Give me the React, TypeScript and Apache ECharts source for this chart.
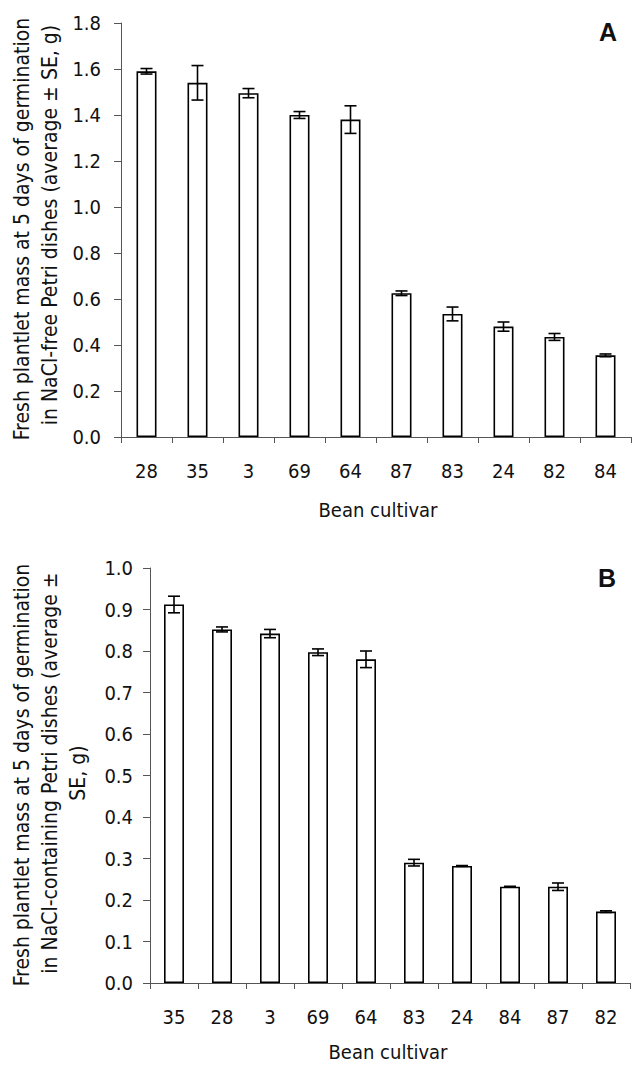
import React, { useEffect, useRef } from "react";
import * as echarts from "echarts";

const cultivarsA = ["28", "35", "3", "69", "64", "87", "83", "24", "82", "84"];
const meanA = [1.59, 1.54, 1.495, 1.4, 1.38, 0.625, 0.535, 0.48, 0.435, 0.355];
const seA = [0.012, 0.075, 0.02, 0.015, 0.06, 0.01, 0.03, 0.02, 0.015, 0.006];

const cultivarsB = ["35", "28", "3", "69", "64", "83", "24", "84", "87", "82"];
const meanB = [0.912, 0.852, 0.842, 0.797, 0.78, 0.29, 0.282, 0.232, 0.232, 0.172];
const seB = [0.02, 0.006, 0.01, 0.008, 0.02, 0.008, 0.001, 0.001, 0.009, 0.002];

const yTicksA = { min: 0, max: 1.8, interval: 0.2 };
const yTicksB = { min: 0, max: 1.0, interval: 0.1 };

const FONT = "DejaVu Sans Condensed";
const FS = 20;
const TXT = "#111";
const AX = "#555";

function errSeries(means: number[], ses: number[], idx: number) {
  return {
    type: "custom",
    xAxisIndex: idx,
    yAxisIndex: idx,
    z: 5,
    data: means.map((m, i) => [i, m - ses[i], m + ses[i]]),
    encode: { x: 0, y: [1, 2] },
    renderItem: (params: any, api: any) => {
      const x = api.value(0);
      const lo = api.coord([x, api.value(1)]);
      const hi = api.coord([x, api.value(2)]);
      const hw = 6;
      const st = { stroke: "#000", lineWidth: 1.6 };
      return {
        type: "group",
        children: [
          { type: "line", shape: { x1: lo[0], y1: lo[1], x2: hi[0], y2: hi[1] }, style: st },
          { type: "line", shape: { x1: lo[0] - hw, y1: lo[1], x2: lo[0] + hw, y2: lo[1] }, style: st },
          { type: "line", shape: { x1: hi[0] - hw, y1: hi[1], x2: hi[0] + hw, y2: hi[1] }, style: st },
        ],
      };
    },
  };
}

function xAx(cats: string[], idx: number) {
  return {
    type: "category",
    gridIndex: idx,
    data: cats,
    boundaryGap: true,
    axisLine: { lineStyle: { color: AX, width: 1 } },
    axisTick: { show: true, alignWithLabel: false, length: 6, lineStyle: { color: AX } },
    axisLabel: { color: TXT, fontFamily: FONT, fontSize: FS, margin: 24 },
  };
}

function yAx(t: { min: number; max: number; interval: number }, idx: number, margin: number) {
  return {
    type: "value",
    gridIndex: idx,
    min: t.min,
    max: t.max,
    interval: t.interval,
    splitLine: { show: false },
    axisLine: { show: true, lineStyle: { color: AX, width: 1 } },
    axisTick: { show: true, length: 7, lineStyle: { color: AX } },
    axisLabel: {
      color: TXT,
      fontFamily: FONT,
      fontSize: FS,
      margin,
      formatter: (v: number) => v.toFixed(1),
    },
  };
}

function barSeries(means: number[], idx: number) {
  return {
    type: "bar",
    xAxisIndex: idx,
    yAxisIndex: idx,
    data: means,
    barWidth: 20,
    itemStyle: { color: "#fff", borderColor: "#000", borderWidth: 1.6 },
  };
}

function vText(text: string, x: number, y: number) {
  return {
    type: "text",
    x,
    y,
    rotation: Math.PI / 2,
    style: {
      text,
      fill: TXT,
      font: `${FS + 1}px '${FONT}'`,
      align: "center",
      verticalAlign: "middle",
    },
  };
}

function hText(text: string, x: number, y: number, font: string) {
  return {
    type: "text",
    x,
    y,
    style: { text, fill: TXT, font, align: "center", verticalAlign: "middle" },
  };
}

export default function App() {
  const ref = useRef<HTMLDivElement>(null);
  useEffect(() => {
    const chart = echarts.init(ref.current!, null, { renderer: "svg" });
    chart.setOption({
      animation: false,
      backgroundColor: "#fff",
      grid: [
        { left: 121, top: 23, width: 510, height: 414 },
        { left: 150, top: 568, width: 480, height: 415 },
      ],
      xAxis: [xAx(cultivarsA, 0), xAx(cultivarsB, 1)],
      yAxis: [yAx(yTicksA, 0, 20), yAx(yTicksB, 1, 17)],
      series: [
        barSeries(meanA, 0),
        errSeries(meanA, seA, 0),
        barSeries(meanB, 1),
        errSeries(meanB, seB, 1),
      ],
      graphic: [
        vText("Fresh plantlet mass at 5 days of germination", 22, 229),
        vText("in NaCl-free Petri dishes (average ± SE, g)", 50, 225),
        vText("Fresh plantlet mass at 5 days of germination", 22, 775),
        vText("in NaCl-containing Petri dishes (average ±", 50, 773),
        vText("SE, g)", 78, 773),
        hText("Bean cultivar", 378, 510, `${FS}px '${FONT}'`),
        hText("Bean cultivar", 388, 1052, `${FS}px '${FONT}'`),
        hText("A", 608, 32, "bold 25px 'Liberation Sans'"),
        hText("B", 607, 578, "bold 25px 'Liberation Sans'"),
      ],
    });
    return () => chart.dispose();
  }, []);
  return (
    <div
      ref={ref}
      style={{ position: "absolute", left: 0, top: 0, width: 633, height: 1065 }}
    />
  );
}
